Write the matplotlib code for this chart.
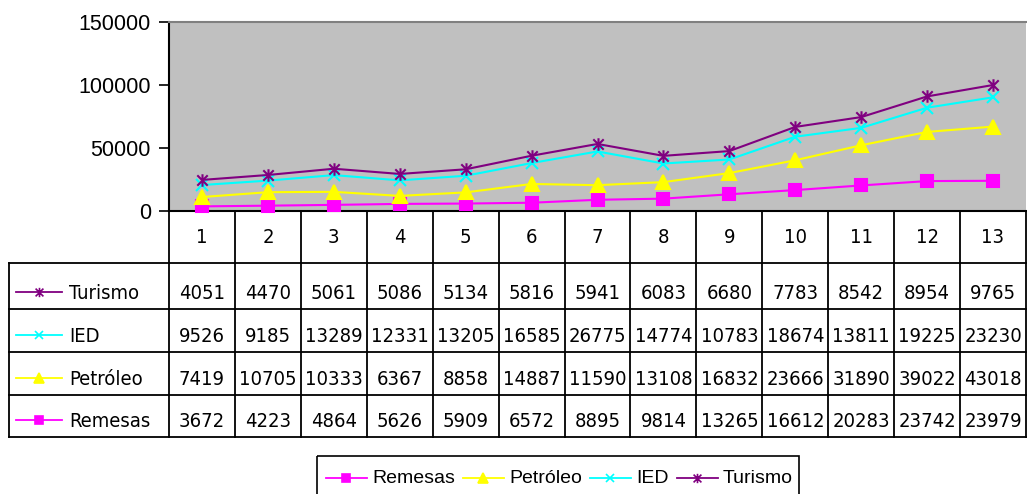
import numpy as np
import matplotlib
matplotlib.use("Agg")
import matplotlib.pyplot as plt
from matplotlib.patches import Rectangle
from matplotlib.path import Path

periods = [str(i) for i in range(1, 14)]
remesas = [3672, 4223, 4864, 5626, 5909, 6572, 8895, 9814, 13265, 16612, 20283, 23742, 23979]
petroleo = [7419, 10705, 10333, 6367, 8858, 14887, 11590, 13108, 16832, 23666, 31890, 39022, 43018]
ied = [9526, 9185, 13289, 12331, 13205, 16585, 26775, 14774, 10783, 18674, 13811, 19225, 23230]
turismo = [4051, 4470, 5061, 5086, 5134, 5816, 5941, 6083, 6680, 7783, 8542, 8954, 9765]

series_names = ["Remesas", "Petróleo", "IED", "Turismo"]
series_vals = [remesas, petroleo, ied, turismo]
colors = ["#FF00FF", "#FFFF00", "#00FFFF", "#800080"]
star = Path([(-1, -1), (1, 1), (-1, 1), (1, -1), (0, -1.2), (0, 1.2)],
            [Path.MOVETO, Path.LINETO, Path.MOVETO, Path.LINETO, Path.MOVETO, Path.LINETO])
markers = ["s", "^", "x", star]
msizes = [8, 10, 8, 9]

W, H = 1027, 494
fig = plt.figure(figsize=(W / 100, H / 100), dpi=100)

ax_l, ax_r, ax_t, ax_b = 169, 1026, 22, 211
ax = fig.add_axes([ax_l / W, 1 - ax_b / H, (ax_r - ax_l) / W, (ax_b - ax_t) / H])
ax.set_facecolor("#C0C0C0")
x = np.arange(1, 14)
stack = np.cumsum(np.array(series_vals), axis=0)
for i in range(4):
    ax.plot(x, stack[i], color=colors[i], marker=markers[i], ms=msizes[i], lw=1.5,
            mew=1.5, clip_on=False, zorder=3)
ax.set_xlim(0.5, 13.5)
ax.set_ylim(0, 150000)
ax.set_yticks([0, 50000, 100000, 150000])
ax.set_yticklabels(["0", "50000", "100000", "150000"], fontfamily="Liberation Sans", fontsize=15.5)
ax.set_xticks([])
ax.spines["right"].set_visible(False)
ax.spines["top"].set_color("#808080")
ax.spines["top"].set_linewidth(1.5)
ax.spines["left"].set_linewidth(1.5)
ax.spines["bottom"].set_linewidth(1.5)
ax.tick_params(axis="y", length=7, width=1.2, pad=6)

ov = fig.add_axes([0, 0, 1, 1])
ov.set_xlim(0, W)
ov.set_ylim(H, 0)
ov.axis("off")

col_edges = np.linspace(ax_l, ax_r, 14)
hdr_top, hdr_bot = 211, 263
row_edges = [263, 309, 352, 395, 437]
tab_left = 9
lc = "black"
lw = 1.3
tfont = dict(fontfamily="DejaVu Sans", fontstretch="condensed", fontsize=14.5)

for ce in col_edges:
    ov.plot([ce, ce], [hdr_top, hdr_bot], color=lc, lw=lw)
for j in range(13):
    ov.text((col_edges[j] + col_edges[j + 1]) / 2, hdr_bot - 20, periods[j],
            ha="center", va="baseline", **tfont)
for re in row_edges:
    ov.plot([tab_left, ax_r], [re, re], color=lc, lw=lw)
for xe in [tab_left] + list(col_edges):
    ov.plot([xe, xe], [row_edges[0], row_edges[-1]], color=lc, lw=lw)

table_order = [3, 2, 1, 0]
for r, si in enumerate(table_order):
    base = row_edges[r + 1] - 10
    yc = base - 7
    ov.plot([16, 62], [yc, yc], color=colors[si], lw=1.3)
    ov.plot([39], [yc], color=colors[si], marker=markers[si], ms=msizes[si] * 0.75, mew=1.2)
    ov.text(69, base, series_names[si], ha="left", va="baseline", **tfont)
    for j in range(13):
        ov.text((col_edges[j] + col_edges[j + 1]) / 2, base, str(series_vals[si][j]),
                ha="center", va="baseline", **tfont)

ov.add_patch(Rectangle((317, 456), 482, 60, fill=False, edgecolor="black", lw=1.2, clip_on=False))
leg_x = [326, 463, 590, 677]
for i in range(4):
    x0 = leg_x[i]
    yc = 478
    ov.plot([x0, x0 + 41], [yc, yc], color=colors[i], lw=1.3)
    ov.plot([x0 + 20], [yc], color=colors[i], marker=markers[i], ms=msizes[i] * 0.75, mew=1.2)
    ov.text(x0 + 46, yc, series_names[i], ha="left", va="center",
            fontfamily="Liberation Sans", fontsize=14)

fig.savefig("out.png", dpi=100)
